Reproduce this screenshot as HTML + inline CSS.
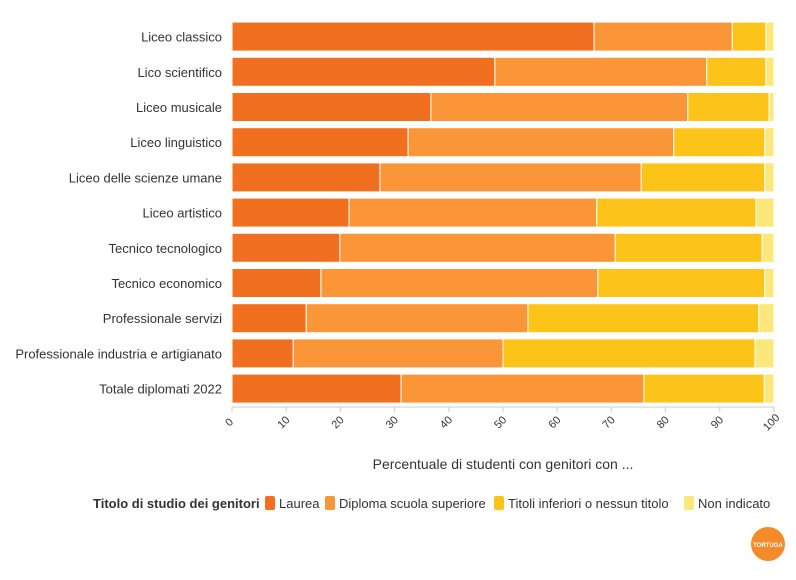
<!DOCTYPE html>
<html><head><meta charset="utf-8"><style>
body{margin:0;background:#fff;font-family:"Liberation Sans",sans-serif;}
svg text{font-family:"Liberation Sans",sans-serif;fill:#333;}
</style></head><body>
<svg id="chart" width="796" height="575">
<g id="bars"></g>
<g id="ylabels"></g>
<g id="xaxis"></g>
<text x="503" y="469" text-anchor="middle" font-size="14" fill="#444">Percentuale di studenti con genitori con ...</text>
<g id="legend"></g>
<g><circle cx="768" cy="544" r="17" fill="#F58A2A"/><text x="768" y="547" text-anchor="middle" font-size="6" font-weight="bold" style="fill:#fff">TORTUGA</text></g>
</svg>
<script>
const categories=["Liceo classico","Lico scientifico","Liceo musicale","Liceo linguistico","Liceo delle scienze umane","Liceo artistico","Tecnico tecnologico","Tecnico economico","Professionale servizi","Professionale industria e artigianato","Totale diplomati 2022"];
const laurea=[66.8,48.5,36.7,32.5,27.3,21.6,19.9,16.4,13.7,11.3,31.2];
const diploma=[25.5,39.1,47.4,49.0,48.2,45.7,50.8,51.1,40.9,38.7,44.8];
const inferiori=[6.2,10.9,15.0,16.8,22.8,29.4,27.1,30.8,42.6,46.5,22.2];
const nonIndicato=[1.5,1.5,0.9,1.7,1.7,3.3,2.2,1.7,2.8,3.5,1.8];
const seriesNames=["Laurea","Diploma scuola superiore","Titoli inferiori o nessun titolo","Non indicato"];
const ticks=[0,10,20,30,40,50,60,70,80,90,100];
const colors=["#F07020","#FA9538","#FCC419","#FBE77A"];
const NS="http://www.w3.org/2000/svg";
const x0=232,x1=774,yTop=19,pitch=35.2,bh=29;
const xs=v=>x0+(x1-x0)*v/100;
const yc=i=>yTop+pitch*i+pitch/2;
function mk(t,a,p){const e=document.createElementNS(NS,t);for(const k in a)e.setAttribute(k,a[k]);p.appendChild(e);return e;}
const series=[laurea,diploma,inferiori,nonIndicato];
const gb=document.getElementById('bars'),gy=document.getElementById('ylabels'),gx=document.getElementById('xaxis'),gl=document.getElementById('legend');
categories.forEach((c,i)=>{
  let acc=0;
  series.forEach((s,k)=>{
    const r=mk('rect',{x:xs(acc),y:yc(i)-bh/2,width:Math.max(0,xs(acc+s[i])-xs(acc)),height:bh,fill:colors[k],stroke:'#fff','stroke-width':1},gb);
    
    
    acc+=s[i];
  });
  const t=mk('text',{x:222,y:yc(i)+5,'text-anchor':'end','font-size':13},gy);
  t.textContent=c;
  
  
});
mk('line',{x1:x0,x2:x1,y1:407,y2:407,stroke:'#ccc'},gx);
ticks.forEach(v=>{
  mk('line',{x1:xs(v),x2:xs(v),y1:407,y2:412,stroke:'#ccc'},gx);
  const cx=xs(v)-3,cy=422;
  const t=mk('text',{x:cx,y:cy+4,'text-anchor':'middle','font-size':11,fill:'#555',transform:`rotate(-45 ${cx} ${cy})`},gx);
  t.textContent=v;
  
  
});
const lt=mk('text',{x:93,y:508,'font-size':13,'font-weight':'bold'},gl);
lt.textContent="Titolo di studio dei genitori";


const lx=[265,325,494,684];
seriesNames.forEach((n,k)=>{
  const g=mk('g',{},gl);
  
  
  mk('rect',{x:lx[k],y:496,width:10,height:14,rx:2,fill:colors[k]},g);
  const t=mk('text',{x:lx[k]+14,y:508,'font-size':13},g);
  t.textContent=n;
});
</script>
</body></html>
